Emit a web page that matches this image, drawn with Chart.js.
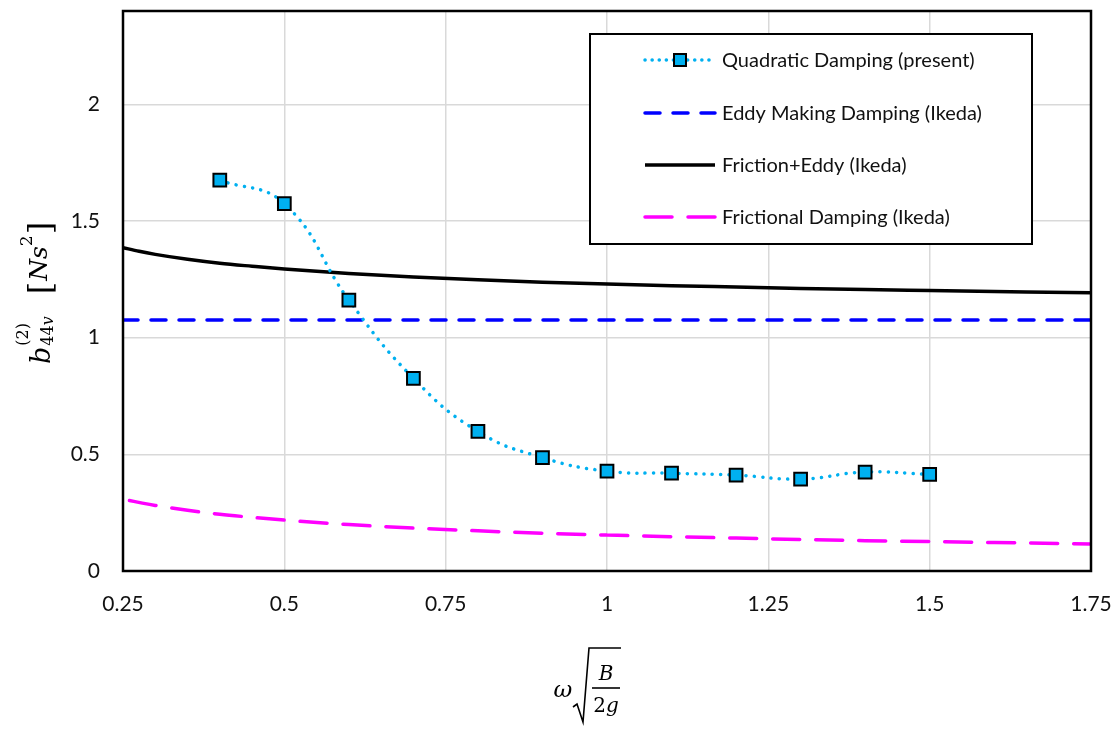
<!DOCTYPE html>
<html>
<head>
<meta charset="utf-8">
<script src="https://cdn.jsdelivr.net/npm/chart.js"></script>
<style>
  html, body { margin: 0; padding: 0; background: #fff; }
  canvas { display: block; }
</style>
</head>
<body>
<canvas id="dampingChart" width="1118" height="729"></canvas>
<script>
// values
const quadX = [0.4, 0.5, 0.6, 0.7, 0.8, 0.9, 1.0, 1.1, 1.2, 1.3, 1.4, 1.5];
const quadY = [1.675, 1.574, 1.161, 0.826, 0.598, 0.486, 0.428, 0.419, 0.411, 0.394, 0.424, 0.414];

const eddyX = [0.25, 1.75];
const eddyY = [1.076, 1.076];

const sumX = [0.25, 0.275, 0.3, 0.35, 0.4, 0.45, 0.5, 0.6, 0.7, 0.8, 0.9, 1.0, 1.1, 1.2, 1.3, 1.4, 1.5, 1.6, 1.75];
const sumY = [1.386, 1.370, 1.357, 1.336, 1.319, 1.306, 1.294, 1.275, 1.260, 1.248, 1.238, 1.230, 1.223, 1.217, 1.211, 1.206, 1.202, 1.198, 1.192];

const fricX = [0.26, 0.28, 0.3, 0.35, 0.4, 0.45, 0.5, 0.6, 0.7, 0.8, 0.9, 1.0, 1.1, 1.2, 1.3, 1.4, 1.5, 1.6, 1.75];
const fricY = [0.302, 0.291, 0.281, 0.260, 0.243, 0.230, 0.218, 0.199, 0.184, 0.172, 0.162, 0.154, 0.147, 0.141, 0.135, 0.130, 0.126, 0.122, 0.116];

const seriesNames = ['Quadratic Damping (present)', 'Eddy Making Damping (Ikeda)', 'Friction+Eddy (Ikeda)', 'Frictional Damping (Ikeda)'];
const xTicks = [0.25, 0.5, 0.75, 1, 1.25, 1.5, 1.75];
const yTicks = [0, 0.5, 1, 1.5, 2];

const pts = (xs, ys) => xs.map((x, i) => ({ x: x, y: ys[i] }));

// frame around the plot area
const framePlugin = {
  id: 'frame',
  afterDatasetsDraw(chart) {
    const a = chart.chartArea, ctx = chart.ctx;
    ctx.save();
    ctx.strokeStyle = '#000';
    ctx.lineWidth = 2.5;
    ctx.strokeRect(a.left, a.top, a.right - a.left, a.bottom - a.top);
    ctx.restore();
  }
};

// boxed legend inside the plot, like the excel one
const boxLegend = {
  id: 'boxLegend',
  afterDraw(chart) {
    const ctx = chart.ctx;
    ctx.save();
    ctx.fillStyle = '#fff';
    ctx.fillRect(590, 34, 442, 210);
    ctx.strokeStyle = '#000';
    ctx.lineWidth = 2;
    ctx.strokeRect(590, 34, 442, 210);
    const rows = [60, 113, 165, 217];
    chart.data.datasets.forEach((ds, i) => {
      const y = rows[i];
      ctx.save();
      ctx.strokeStyle = ds.borderColor;
      ctx.lineWidth = ds.borderWidth;
      ctx.lineCap = ds.borderCapStyle || 'butt';
      ctx.setLineDash(ds.legendDash || ds.borderDash || []);
      ctx.beginPath();
      ctx.moveTo(645, y);
      ctx.lineTo(715, y);
      ctx.stroke();
      ctx.restore();
      if (ds.pointRadius > 0) {
        ctx.fillStyle = ds.pointBackgroundColor;
        ctx.strokeStyle = ds.pointBorderColor;
        ctx.lineWidth = 2;
        ctx.fillRect(674, y - 6, 12, 12);
        ctx.strokeRect(674, y - 6, 12, 12);
      }
      ctx.fillStyle = '#111';
      ctx.font = '20px Lato';
      ctx.textBaseline = 'middle';
      ctx.fillText(ds.label, 722, y + 1);
    });
    ctx.restore();
  }
};

// axis titles in math style
const mathTitles = {
  id: 'mathTitles',
  afterDraw(chart) {
    const ctx = chart.ctx;
    ctx.save();
    ctx.fillStyle = '#000';
    ctx.textBaseline = 'alphabetic';

    // y title: b^(2)_44v [Ns^2]
    ctx.save();
    ctx.translate(50, 364);
    ctx.rotate(-Math.PI / 2);
    let x = 0;
    ctx.font = 'italic 27px "DejaVu Serif"';
    ctx.fillText('b', x, 0);
    x += ctx.measureText('b').width + 1;
    ctx.font = '16px "DejaVu Serif"';
    ctx.fillText('(2)', x, -22);
    const w1 = ctx.measureText('(2)').width;
    ctx.fillText('44', x, 3);
    let w2 = ctx.measureText('44').width;
    ctx.font = 'italic 16px "DejaVu Serif"';
    ctx.fillText('v', x + w2, 3);
    w2 += ctx.measureText('v').width;
    x += Math.max(w1, w2) + 22;
    ctx.font = '32px "DejaVu Serif"';
    ctx.fillText('[', x, 1);
    x += ctx.measureText('[').width + 1;
    ctx.font = 'italic 25px "DejaVu Serif"';
    ctx.fillText('Ns', x, -3);
    x += ctx.measureText('Ns').width;
    ctx.font = '17px "DejaVu Serif"';
    ctx.fillText('2', x, -18);
    x += ctx.measureText('2').width + 1;
    ctx.font = '32px "DejaVu Serif"';
    ctx.fillText(']', x, 1);
    ctx.restore();

    // x title: omega sqrt(B / 2g)
    ctx.font = 'italic 23px "DejaVu Serif"';
    ctx.textAlign = 'center';
    ctx.fillText('\u03c9', 563, 697);
    ctx.strokeStyle = '#000';
    ctx.lineWidth = 1.6;
    ctx.beginPath();
    ctx.moveTo(573, 707);
    ctx.lineTo(577, 704);
    ctx.lineTo(583, 722);
    ctx.lineTo(589, 648);
    ctx.lineTo(621, 648);
    ctx.stroke();
    ctx.beginPath();
    ctx.moveTo(592, 688);
    ctx.lineTo(620, 688);
    ctx.stroke();
    ctx.font = 'italic 20px "DejaVu Serif"';
    ctx.fillText('B', 606, 680);
    ctx.textAlign = 'left';
    ctx.font = '20px "DejaVu Serif"';
    const w2a = ctx.measureText('2').width;
    ctx.font = 'italic 20px "DejaVu Serif"';
    const wg = ctx.measureText('g').width;
    const sx = 606 - (w2a + wg) / 2;
    ctx.font = '20px "DejaVu Serif"';
    ctx.fillText('2', sx, 712);
    ctx.font = 'italic 20px "DejaVu Serif"';
    ctx.fillText('g', sx + w2a, 712);
    ctx.restore();
  }
};

const ctx = document.getElementById('dampingChart').getContext('2d');
const dampingChart = new Chart(ctx, {
  type: 'line',
  data: {
    datasets: [{
      label: seriesNames[0],
      data: pts(quadX, quadY),
      borderColor: '#00B0F0',
      borderWidth: 3.5,
      borderDash: [0.1, 8.3],
      borderCapStyle: 'round',
      legendDash: [0.1, 7],
      tension: 0.45,
      pointStyle: 'rect',
      pointRadius: 9,
      pointBackgroundColor: '#00B0F0',
      pointBorderColor: '#000',
      pointBorderWidth: 2
    }, {
      label: seriesNames[1],
      data: pts(eddyX, eddyY),
      borderColor: '#0000FF',
      borderWidth: 3.5,
      borderDash: [15, 13],
      borderCapStyle: 'round',
      pointRadius: 0,
      tension: 0
    }, {
      label: seriesNames[2],
      data: pts(sumX, sumY),
      borderColor: '#000',
      borderWidth: 3.5,
      pointRadius: 0,
      cubicInterpolationMode: 'monotone'
    }, {
      label: seriesNames[3],
      data: pts(fricX, fricY),
      borderColor: '#FF00FF',
      borderWidth: 3.5,
      borderDash: [27, 16],
      borderCapStyle: 'round',
      pointRadius: 0,
      cubicInterpolationMode: 'monotone'
    }]
  },
  options: {
    responsive: false,
    animation: false,
    layout: { padding: { left: 0, right: 27, top: 7, bottom: 0 } },
    plugins: {
      legend: { display: false },
      tooltip: { enabled: false }
    },
    scales: {
      x: {
        type: 'linear',
        min: 0.25,
        max: 1.75,
        afterBuildTicks: (s) => { s.ticks = xTicks.map(v => ({ value: v })); },
        afterFit: (s) => { s.height = 158; s.paddingLeft = 0; s.paddingRight = 0; },
        ticks: {
          padding: 21,
          color: '#111',
          font: { family: 'Lato', size: 21 },
          maxRotation: 0,
          callback: (v) => String(v)
        },
        grid: { color: '#d9d9d9', lineWidth: 1.5, drawTicks: false },
        border: { display: false }
      },
      y: {
        type: 'linear',
        min: 0,
        max: 2.4,
        afterBuildTicks: (s) => { s.ticks = yTicks.map(v => ({ value: v })); },
        afterFit: (s) => { s.width = 123; s.paddingTop = 0; s.paddingBottom = 0; },
        ticks: {
          padding: 23,
          color: '#111',
          font: { family: 'Lato', size: 21 },
          callback: (v) => String(v)
        },
        grid: { color: '#d9d9d9', lineWidth: 1.5, drawTicks: false },
        border: { display: false }
      }
    }
  },
  plugins: [framePlugin, boxLegend, mathTitles]
});
</script>
</body>
</html>
